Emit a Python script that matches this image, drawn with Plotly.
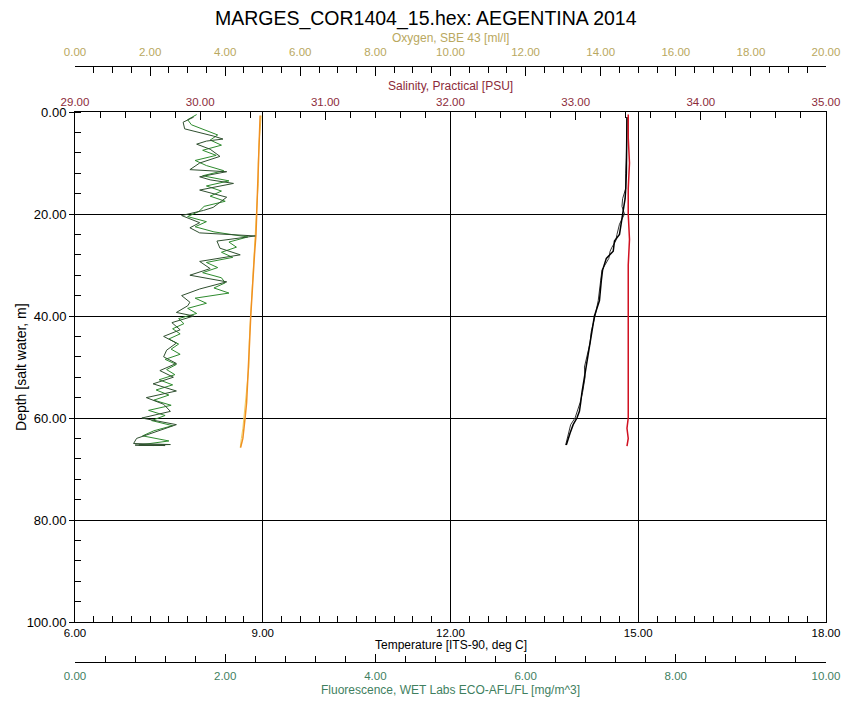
import plotly.graph_objects as go

# ---------------- data ----------------
depth_t = [1, 3, 6, 9, 12, 15, 17, 18.5, 20, 22, 24, 25.3, 26.5, 27.3, 28.7, 30, 31, 33, 35, 37,
           40, 43, 45.3, 48, 50, 52, 55, 57, 58.7, 60, 61.3, 63, 65.3]
temp_down = [14.82, 14.82, 14.82, 14.81, 14.81, 14.80, 14.79, 14.77, 14.75, 14.72, 14.70, 14.62,
             14.61, 14.60, 14.49, 14.45, 14.43, 14.41, 14.40, 14.38, 14.30, 14.26, 14.22, 14.19,
             14.16, 14.14, 14.10, 14.08, 14.06, 14.02, 13.96, 13.91, 13.85]
temp_up = [14.82, 14.82, 14.81, 14.81, 14.80, 14.80, 14.75, 14.74, 14.78, 14.70, 14.66, 14.64,
           14.58, 14.55, 14.53, 14.47, 14.42, 14.40, 14.38, 14.36, 14.31, 14.25, 14.23, 14.18,
           14.14, 14.15, 14.11, 14.07, 14.03, 13.99, 13.92, 13.89, 13.84]

depth_s = [0.5, 5, 10, 15, 20, 25, 30, 35, 40, 45, 50, 55, 60, 62, 64, 65.5]
salinity = [33.42, 33.42, 33.43, 33.42, 33.42, 33.43, 33.42, 33.42, 33.42, 33.42, 33.42, 33.42,
            33.42, 33.41, 33.42, 33.41]

depth_o = [0.7, 3, 6, 10, 14, 17.3, 20, 24, 28, 33.3, 37.3, 40, 45, 50, 53.3, 57, 60, 62, 64, 65.8]
oxy_down = [4.93, 4.92, 4.91, 4.89, 4.87, 4.86, 4.85, 4.82, 4.78, 4.73, 4.70, 4.68, 4.65, 4.62,
            4.60, 4.57, 4.53, 4.50, 4.47, 4.41]
oxy_up = [4.96, 4.93, 4.90, 4.88, 4.88, 4.85, 4.83, 4.80, 4.76, 4.72, 4.71, 4.67, 4.64, 4.63,
          4.59, 4.55, 4.51, 4.47, 4.43, 4.40]

depth_fa = [1.0, 2.0, 3.3, 4.0, 4.7, 5.3, 5.7, 6.3, 7.3, 8.7, 10.0, 11.3, 11.7, 12.7, 13.3, 14.0,
            15.3, 16.7, 18.7, 19.3, 20.3, 21.7, 22.7, 23.7, 24.3, 25.3, 26.7, 28.0, 29.3, 30.7,
            32.0, 33.3, 34.7, 36.0, 37.3, 38.0, 39.3, 40.0, 41.3, 42.7, 44.0, 45.3, 46.7, 48.0,
            49.3, 50.7, 52.0, 53.3, 54.7, 56.0, 57.3, 58.7, 60.0, 61.3, 62.7, 64.0, 65.0, 65.2,
            65.3, 65.4, 65.3, 65.4]
fluor_a = [1.58, 1.44, 1.46, 1.66, 1.84, 1.97, 1.75, 1.62, 1.80, 1.93, 1.66, 1.53, 2.02, 1.66,
           1.80, 2.11, 1.66, 2.02, 1.84, 1.71, 1.42, 1.66, 1.53, 1.66, 2.40, 1.89, 1.93, 2.20,
           1.66, 1.80, 1.53, 2.02, 1.66, 1.42, 1.53, 1.50, 1.35, 1.58, 1.29, 1.40, 1.18, 1.35,
           1.22, 1.18, 1.35, 1.13, 1.31, 1.04, 1.35, 0.95, 1.18, 1.27, 0.89, 1.35, 1.09, 0.82,
           0.78, 1.27, 0.85, 1.20, 0.80, 1.05]

depth_fb = [0.5, 1.5, 2.5, 3.5, 4.5, 5.5, 6.5, 7.5, 8.5, 9.5, 10.5, 11.5, 12.5, 13.5, 14.5, 15.5,
            16.5, 17.5, 18.5, 19.5, 20.5, 21.5, 22.5, 23.5, 24.5, 25.5, 26.5, 27.5, 28.5, 29.5,
            30.5, 31.5, 32.5, 33.5, 34.5, 35.5, 36.5, 37.5, 38.5, 39.5, 40.5, 41.5, 42.5, 43.5,
            44.5, 45.5, 46.5, 47.5, 48.5, 49.5, 50.5, 51.5, 52.5, 53.5, 54.5, 55.5, 56.5, 57.5,
            58.5, 59.5, 60.5, 61.5, 62.5, 63.5, 64.5, 65.3]
fluor_b = [1.62, 1.50, 1.55, 1.72, 1.90, 1.80, 1.95, 1.70, 1.88, 1.60, 1.75, 1.98, 1.70, 2.05,
           1.75, 1.95, 1.80, 2.00, 1.72, 1.65, 1.50, 1.75, 1.60, 1.85, 2.30, 2.05, 2.15, 1.95,
           2.10, 1.75, 1.90, 1.70, 1.95, 2.00, 1.85, 2.05, 1.60, 1.75, 1.50, 1.62, 1.38, 1.45,
           1.30, 1.40, 1.25, 1.38, 1.28, 1.40, 1.20, 1.35, 1.22, 1.33, 1.12, 1.30, 1.08, 1.25,
           1.05, 1.28, 0.98, 1.20, 1.02, 1.30, 1.05, 0.90, 1.25, 0.85]

TITLE = "MARGES_COR1404_15.hex: AEGENTINA 2014"

# ---------------- style ----------------
FONT = "Liberation Sans, Arial, sans-serif"
OXY_C = "#B9A860"
SAL_C = "#8C2B3A"
FL_C = "#3F7F5F"

fig = go.Figure()
fig.add_trace(go.Scatter(x=fluor_b, y=depth_fb, xaxis="x4", yaxis="y", mode="lines",
                         line=dict(color="#2E8B2E", width=1), showlegend=False))
fig.add_trace(go.Scatter(x=fluor_a, y=depth_fa, xaxis="x4", yaxis="y", mode="lines",
                         line=dict(color="#2F4F2F", width=1), showlegend=False))
fig.add_trace(go.Scatter(x=oxy_up, y=depth_o, xaxis="x3", yaxis="y", mode="lines",
                         line=dict(color="#F0D060", width=1), showlegend=False))
fig.add_trace(go.Scatter(x=oxy_down, y=depth_o, xaxis="x3", yaxis="y", mode="lines",
                         line=dict(color="#F09020", width=1.5), showlegend=False))
fig.add_trace(go.Scatter(x=salinity, y=depth_s, xaxis="x2", yaxis="y", mode="lines",
                         line=dict(color="#D01020", width=1.5), showlegend=False))
fig.add_trace(go.Scatter(x=temp_up, y=depth_t, xaxis="x", yaxis="y", mode="lines",
                         line=dict(color="#333333", width=1), showlegend=False))
fig.add_trace(go.Scatter(x=temp_down, y=depth_t, xaxis="x", yaxis="y", mode="lines",
                         line=dict(color="#000000", width=1.5), showlegend=False))

Y0, Y1 = 0.0906, 0.8610

common = dict(showline=True, linecolor="black", linewidth=1, zeroline=False,
              tickformat=".2f", tickcolor="black", automargin=False)

fig.update_layout(
    width=843, height=702,
    margin=dict(l=75, r=17, t=20, b=20),
    paper_bgcolor="white", plot_bgcolor="white",
    font=dict(family=FONT, size=11, color="black"),
    title=dict(text=TITLE, x=0.505, xanchor="center", y=0.974, yanchor="middle",
               yref="container", font=dict(family=FONT, size=19.5, color="black")),
    xaxis=dict(domain=[0, 1], range=[6, 18], tick0=6, dtick=3, side="bottom", anchor="y",
               showgrid=True, gridcolor="black", gridwidth=1,
               ticks="inside", ticklen=8,
               minor=dict(tick0=6, dtick=0.3, ticks="inside", ticklen=6, tickcolor="black",
                          showgrid=False),
               tickfont=dict(size=11.5, color="black"), **common),
    xaxis2=dict(overlaying="x", range=[29, 35], tick0=29, dtick=1, side="top", anchor="y",
                showgrid=False, ticks="inside", ticklen=8,
                minor=dict(tick0=29, dtick=0.2, ticks="inside", ticklen=6, tickcolor="black",
                           showgrid=False),
                tickfont=dict(size=11.5, color=SAL_C), **common),
    xaxis3=dict(overlaying="x", range=[0, 20], tick0=0, dtick=2, side="top", anchor="free",
                position=0.9305, showgrid=False, ticks="inside", ticklen=9,
                ticklabelstandoff=5,
                minor=dict(tick0=0, dtick=0.5, ticks="inside", ticklen=6, tickcolor="black",
                           showgrid=False),
                tickfont=dict(size=11.5, color=OXY_C), **common),
    xaxis4=dict(overlaying="x", range=[0, 10], tick0=0, dtick=2, side="bottom", anchor="free",
                position=0.0302, showgrid=False, ticks="inside", ticklen=8,
                ticklabelstandoff=3,
                minor=dict(tick0=0, dtick=0.4, ticks="inside", ticklen=6, tickcolor="black",
                           showgrid=False),
                tickfont=dict(size=11.5, color=FL_C), **common),
    yaxis=dict(domain=[Y0, Y1], range=[100, 0], tick0=0, dtick=20, anchor="x",
               showgrid=True, gridcolor="black", gridwidth=1, mirror=True,
               ticks="outside", ticklen=5,
               minor=dict(tick0=0, dtick=4, ticks="inside", ticklen=6, tickcolor="black",
                          showgrid=False),
               tickfont=dict(size=13, color="black"), **common),
)

ann = [
    dict(text="Oxygen, SBE 43 [ml/l]", x=0.5, y=0.9728, color=OXY_C, size=12),
    dict(text="Salinity, Practical [PSU]", x=0.5, y=0.9003, color=SAL_C, size=12),
    dict(text="Temperature [ITS-90, deg C]", x=0.5, y=0.0559, color="black", size=12),
    dict(text="Fluorescence, WET Labs ECO-AFL/FL [mg/m^3]", x=0.5, y=-0.0121, color=FL_C, size=12),
]
for a in ann:
    fig.add_annotation(text=a["text"], x=a["x"], y=a["y"], xref="paper", yref="paper",
                       showarrow=False, xanchor="center", yanchor="middle",
                       font=dict(family=FONT, size=a["size"], color=a["color"]))
fig.add_annotation(text="Depth [salt water, m]", x=-0.072, y=(Y0 + Y1) / 2, xref="paper",
                   yref="paper", showarrow=False, textangle=-90, xanchor="center",
                   yanchor="middle", font=dict(family=FONT, size=14, color="black"))

fig.write_html("out.html")
